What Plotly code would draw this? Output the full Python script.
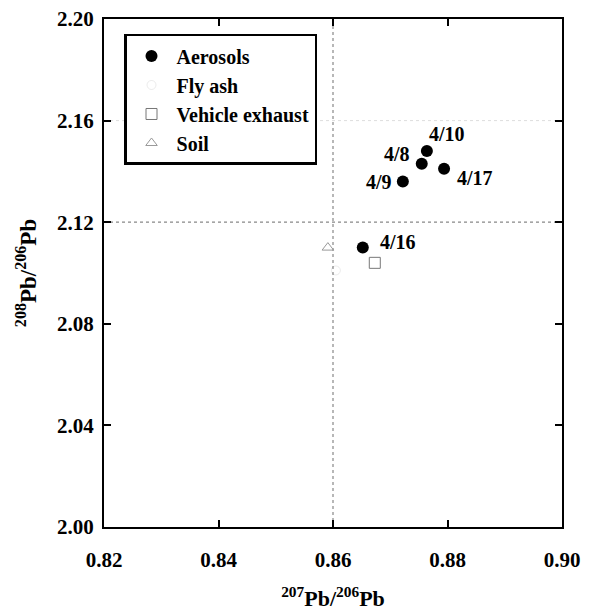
import plotly.graph_objects as go

aer_x = [0.8755, 0.8764, 0.8722, 0.8794, 0.8652]
aer_y = [2.143, 2.148, 2.136, 2.141, 2.110]
aer_lbl = ["4/8", "4/10", "4/9", "4/17", "4/16"]
fly_x = [0.8605]
fly_y = [2.101]
veh_x = [0.8673]
veh_y = [2.104]
soil_x = [0.8591]
soil_y = [2.110]
xticks = [0.82, 0.84, 0.86, 0.88, 0.90]
yticks = [2.00, 2.04, 2.08, 2.12, 2.16, 2.20]

FONT = "Liberation Serif"
fig = go.Figure()
fig.add_trace(go.Scatter(x=aer_x, y=aer_y, mode="markers", name="<b>Aerosols</b>",
                         marker=dict(symbol="circle", size=12, color="black")))
fig.add_trace(go.Scatter(x=fly_x, y=fly_y, mode="markers", name="<b>Fly ash</b>",
                         marker=dict(symbol="circle-open", size=9, color="rgba(0,0,0,0.08)")))
fig.add_trace(go.Scatter(x=veh_x, y=veh_y, mode="markers", name="<b>Vehicle exhaust</b>",
                         marker=dict(symbol="square-open", size=11, color="#777", line=dict(width=1))))
fig.add_trace(go.Scatter(x=soil_x, y=soil_y, mode="markers", name="<b>Soil</b>",
                         marker=dict(symbol="triangle-up-open", size=10, color="#999", line=dict(width=1))))

offsets = {"4/8": (-25, -10), "4/10": (20, -17), "4/9": (-24, 0), "4/17": (31, 9), "4/16": (35, -6)}
for x, y, t in zip(aer_x, aer_y, aer_lbl):
    ax, ay = offsets[t]
    fig.add_annotation(x=x, y=y, text="<b>%s</b>" % t, showarrow=True, arrowcolor="rgba(0,0,0,0)",
                       ax=ax, ay=ay, font=dict(family=FONT, size=20, color="black"))

fig.add_shape(type="line", x0=0.86, x1=0.86, y0=2.0, y1=2.2, xref="x", yref="y",
              line=dict(color="#888", width=1.2, dash="dot"), layer="below")
fig.add_shape(type="line", x0=0.82, x1=0.90, y0=2.12, y1=2.12, xref="x", yref="y",
              line=dict(color="#888", width=1.2, dash="dot"), layer="below")
fig.add_shape(type="line", x0=0.82, x1=0.90, y0=2.16, y1=2.16, xref="x", yref="y",
              line=dict(color="#ddd", width=1, dash="dot"), layer="below")

axis_common = dict(showgrid=False, zeroline=False, showline=True, linecolor="black", linewidth=2,
                   mirror="ticks", ticks="inside", ticklen=7, tickwidth=1.5, tickcolor="black",
                   automargin=False, ticklabeloverflow="allow",
                   tickfont=dict(family=FONT, size=21, color="black"))
fig.update_xaxes(range=[0.82, 0.90], tickvals=xticks, ticktext=["<b>%.2f</b>" % v for v in xticks],
                 ticklabelstandoff=13,
                 title=dict(text="<b><sup>207</sup>Pb/<sup>206</sup>Pb</b>", font=dict(family=FONT, size=22, color="black"), standoff=20),
                 **axis_common)
fig.update_yaxes(range=[2.00, 2.20], tickvals=yticks, ticktext=["<b>%.2f</b>" % v for v in yticks],
                 ticklabelstandoff=4,
                 title=dict(text="<b><sup>208</sup>Pb/<sup>206</sup>Pb</b>", font=dict(family=FONT, size=23, color="black"), standoff=14),
                 **axis_common)
fig.update_layout(width=585, height=603, margin=dict(l=96, r=31, t=11, b=84),
                  paper_bgcolor="white", plot_bgcolor="white",
                  legend=dict(x=0.0437, y=0.9705, xanchor="left", yanchor="top",
                              bordercolor="black", borderwidth=2.5, bgcolor="white",
                              font=dict(family=FONT, size=20, color="black"),
                              tracegroupgap=0, itemwidth=40))
fig.write_html("out.html")
